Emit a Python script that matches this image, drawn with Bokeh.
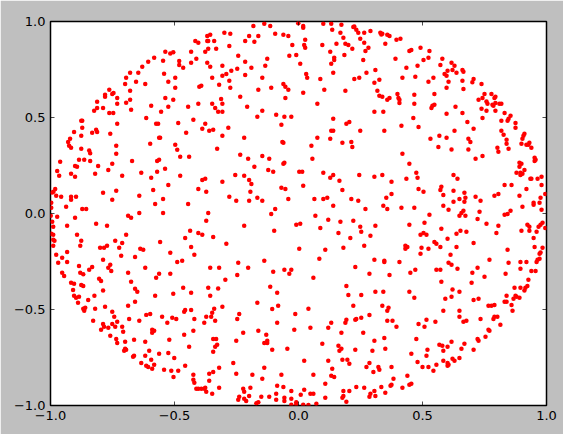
from bokeh.plotting import figure
from bokeh.models import FixedTicker, LinearAxis
from bokeh.embed import file_html
from bokeh.resources import INLINE

tick_values = [-1.0, -0.5, 0.0, 0.5, 1.0]
tick_labels = ["\u22121.0", "\u22120.5", "0.0", "0.5", "1.0"]

upper_left = [(-0.537,0.842),(-0.517,0.833),(-0.505,0.840),(-0.582,0.811),(-0.606,0.790),(-0.546,0.795),(-0.481,0.794),(-0.481,0.774),(-0.630,0.764),(-0.679,0.733),(-0.646,0.733),(-0.695,0.707),(-0.542,0.728),(-0.497,0.707),(-0.699,0.675),(-0.655,0.686),(-0.618,0.675),(-0.525,0.686),(-0.497,0.655),(-0.763,0.644),(-0.679,0.639),(-0.780,0.618),(-0.780,0.608),(-0.751,0.623),(-0.746,0.627),(-0.731,0.602),(-0.812,0.582),(-0.679,0.592),(-0.695,0.577),(-0.731,0.571),(-0.537,0.602),(-0.505,0.592),(-0.824,0.535),(-0.812,0.550),(-0.788,0.550),(-0.675,0.540),(-0.594,0.561),(-0.525,0.556),(-0.554,0.530),(-0.763,0.524),(-0.747,0.524),(-0.614,0.498),(-0.876,0.483),(-0.872,0.483),(-0.731,0.467),(-0.574,0.467),(-0.566,0.467),(-0.485,0.472),(-0.872,0.446),(-0.905,0.425),(-0.832,0.420),(-0.816,0.436),(-0.812,0.425),(-0.876,0.405),(-0.759,0.415),(-0.921,0.389),(-0.929,0.373),(-0.562,0.394),(-0.558,0.394),(-0.925,0.353),(-0.917,0.342),(-0.598,0.363),(-0.735,0.353),(-0.497,0.358),(-0.876,0.337),(-0.489,0.332),(-0.844,0.328)]

upper_middle = [(-0.182,0.977),(-0.138,0.988),(-0.114,0.977),(-0.001,0.991),(0.019,0.977),(0.019,0.967),(0.100,0.988),(0.132,0.988),(0.173,0.983),(0.136,0.957),(0.221,0.972),(0.225,0.974),(0.233,0.957),(0.241,0.941),(0.265,0.941),(0.290,0.951),(-0.299,0.941),(-0.275,0.936),(-0.368,0.925),(-0.356,0.931),(-0.199,0.925),(-0.162,0.925),(-0.094,0.936),(-0.061,0.931),(-0.041,0.925),(0.169,0.941),(0.181,0.915),(0.249,0.910),(-0.416,0.899),(-0.404,0.889),(-0.368,0.899),(-0.364,0.899),(-0.340,0.899),(-0.215,0.899),(-0.178,0.894),(0.027,0.905),(-0.279,0.873),(-0.025,0.878),(0.023,0.878),(0.027,0.863),(0.096,0.878),(0.153,0.884),(0.189,0.884),(0.201,0.878),(0.265,0.889),(0.217,0.858),(0.282,0.863),(0.270,0.847),(-0.433,0.842),(-0.376,0.842),(-0.364,0.858),(-0.332,0.858),(-0.243,0.821),(-0.037,0.821),(-0.009,0.826),(0.128,0.842),(0.185,0.826),(-0.412,0.806),(-0.126,0.806),(0.144,0.811),(0.144,0.800),(0.261,0.800),(-0.433,0.785),(-0.368,0.785),(-0.215,0.790),(0.007,0.780),(0.132,0.780),(-0.465,0.759),(-0.356,0.764),(-0.307,0.769),(-0.134,0.769),(-0.247,0.754),(-0.190,0.759),(-0.271,0.743),(-0.291,0.727),(-0.307,0.717),(-0.215,0.722),(0.031,0.727),(0.140,0.733),(0.274,0.733),(-0.348,0.707),(-0.146,0.707),(0.035,0.707),(0.088,0.701),(0.225,0.701),(0.245,0.707),(-0.279,0.691),(-0.061,0.675),(-0.400,0.660),(-0.392,0.665),(-0.320,0.670),(-0.053,0.660),(-0.041,0.644),(-0.275,0.655),(-0.162,0.644),(-0.110,0.655),(0.104,0.644),(0.189,0.639),(0.019,0.629),(-0.235,0.608),(-0.312,0.597),(-0.053,0.602),(-0.404,0.571),(-0.348,0.571),(-0.307,0.571),(0.076,0.571),(-0.445,0.556),(-0.336,0.550),(-0.207,0.556),(-0.324,0.530),(-0.307,0.530),(-0.146,0.535),(-0.090,0.514),(-0.166,0.504),(-0.057,0.504),(-0.029,0.504),(-0.424,0.488),(0.140,0.493),(0.205,0.477),(0.193,0.467),(-0.376,0.467),(-0.069,0.462),(-0.388,0.441),(-0.360,0.431),(-0.344,0.436),(-0.283,0.446),(0.132,0.431),(0.140,0.431),(0.249,0.431),(-0.453,0.420),(-0.307,0.405),(-0.219,0.394),(0.076,0.394),(0.128,0.389),(-0.065,0.373),(-0.061,0.368),(0.177,0.368),(0.213,0.373),(0.052,0.353),(0.217,0.347),(-0.328,0.337)]

upper_right = [(0.330,0.941),(0.334,0.932),(0.338,0.936),(0.358,0.931),(0.367,0.925),(0.395,0.905),(0.411,0.910),(0.350,0.884),(0.492,0.863),(0.447,0.847),(0.455,0.852),(0.528,0.847),(0.391,0.806),(0.524,0.811),(0.504,0.800),(0.580,0.806),(0.617,0.785),(0.629,0.769),(0.572,0.774),(0.480,0.769),(0.435,0.759),(0.310,0.748),(0.601,0.743),(0.621,0.748),(0.589,0.727),(0.597,0.717),(0.637,0.733),(0.661,0.748),(0.665,0.738),(0.471,0.712),(0.419,0.707),(0.544,0.707),(0.706,0.701),(0.326,0.696),(0.306,0.681),(0.524,0.686),(0.605,0.686),(0.661,0.691),(0.701,0.684),(0.738,0.675),(0.597,0.655),(0.665,0.649),(0.318,0.639),(0.548,0.623),(0.399,0.623),(0.467,0.618),(0.750,0.623),(0.778,0.623),(0.326,0.613),(0.338,0.608),(0.367,0.602),(0.358,0.592),(0.403,0.602),(0.407,0.592),(0.407,0.576),(0.794,0.608),(0.790,0.602),(0.726,0.592),(0.742,0.602),(0.758,0.583),(0.762,0.571),(0.794,0.576),(0.810,0.571),(0.818,0.571),(0.467,0.571),(0.548,0.566),(0.540,0.561),(0.536,0.550),(0.633,0.556),(0.782,0.566),(0.786,0.561),(0.738,0.545),(0.758,0.535),(0.794,0.535),(0.306,0.530),(0.342,0.530),(0.661,0.524),(0.597,0.519),(0.831,0.524),(0.855,0.509),(0.847,0.493),(0.843,0.483),(0.463,0.498),(0.742,0.498),(0.818,0.483),(0.681,0.477),(0.875,0.472),(0.415,0.457),(0.484,0.451),(0.875,0.446),(0.706,0.441),(0.346,0.431),(0.629,0.431),(0.818,0.431),(0.827,0.410),(0.568,0.405),(0.597,0.394),(0.532,0.389),(0.685,0.389),(0.693,0.373),(0.911,0.415),(0.907,0.405),(0.903,0.389),(0.839,0.384),(0.839,0.363),(0.899,0.363),(0.919,0.358),(0.931,0.368),(0.927,0.358),(0.564,0.347),(0.802,0.342),(0.939,0.342),(0.847,0.337),(0.617,0.333),(0.685,0.333)]

centre_left = [(-0.840,0.314),(-0.735,0.311),(-0.477,0.295),(-0.961,0.269),(-0.885,0.280),(-0.864,0.280),(-0.840,0.274),(-0.671,0.274),(-0.570,0.274),(-0.562,0.280),(-0.808,0.248),(-0.751,0.259),(-0.901,0.248),(-0.893,0.243),(-0.538,0.233),(-0.767,0.227),(-0.973,0.222),(-0.917,0.207),(-0.820,0.207),(-0.570,0.217),(-0.634,0.212),(-0.965,0.196),(-0.901,0.191),(-0.711,0.196),(-0.477,0.196),(-0.594,0.186),(-0.525,0.149),(-0.981,0.128),(-0.586,0.123),(-0.993,0.109),(-0.988,0.113),(-0.788,0.108),(-0.735,0.118),(-0.977,0.092),(-0.957,0.087),(-0.917,0.087),(-0.917,0.071),(-0.897,0.087),(-0.642,0.092),(-0.751,0.071),(-0.546,0.076),(-0.997,0.056),(-0.578,0.050),(-0.937,0.035),(-0.997,0.030),(-0.872,0.024),(-0.856,0.024),(-0.642,0.003),(-0.546,0.003),(-0.999,-0.012),(-0.973,-0.017),(-0.687,-0.012),(-0.675,-0.022),(-0.901,-0.022),(-0.993,-0.043),(-0.816,-0.054),(-0.989,-0.069),(-0.933,-0.064),(-0.772,-0.064),(-0.997,-0.106),(-0.989,-0.111),(-0.893,-0.111),(-0.695,-0.111),(-0.989,-0.137),(-0.984,-0.142),(-0.876,-0.142),(-0.739,-0.142),(-0.711,-0.153),(-0.558,-0.148),(-0.989,-0.168),(-0.880,-0.168),(-0.800,-0.179),(-0.784,-0.179),(-0.772,-0.168),(-0.723,-0.179),(-0.638,-0.184),(-0.626,-0.189),(-0.977,-0.215),(-0.933,-0.200),(-0.517,-0.205),(-0.715,-0.220),(-0.659,-0.226),(-0.953,-0.231),(-0.788,-0.241),(-0.489,-0.252),(-0.969,-0.257),(-0.933,-0.252),(-0.885,-0.273),(-0.759,-0.267),(-0.832,-0.278),(-0.844,-0.293),(-0.767,-0.283),(-0.618,-0.283),(-0.755,-0.299),(-0.953,-0.309),(-0.945,-0.325),(-0.880,-0.309),(-0.868,-0.316),(-0.687,-0.309),(-0.562,-0.314),(-0.517,-0.314),(-0.574,-0.335),(-0.804,-0.340),(-0.796,-0.351),(-0.675,-0.356),(-0.917,-0.361),(-0.905,-0.366),(-0.876,-0.372),(-0.868,-0.377),(-0.659,-0.392),(-0.909,-0.398),(-0.788,-0.401)]

centre_middle = [(-0.441,0.295),(-0.235,0.306),(-0.203,0.285),(-0.146,0.300),(-0.118,0.285),(0.056,0.285),(-0.178,0.243),(-0.061,0.259),(-0.057,0.264),(-0.122,0.227),(-0.102,0.217),(0.003,0.217),(0.015,0.217),(0.100,0.212),(0.140,0.201),(0.128,0.186),(0.245,0.201),(-0.255,0.201),(-0.219,0.196),(-0.388,0.175),(-0.376,0.181),(-0.199,0.175),(-0.307,0.165),(0.165,0.170),(-0.190,0.154),(0.019,0.144),(-0.404,0.128),(-0.069,0.134),(-0.053,0.128),(0.177,0.123),(-0.372,0.113),(-0.194,0.113),(-0.279,0.087),(-0.166,0.082),(-0.251,0.066),(-0.199,0.066),(-0.146,0.066),(-0.041,0.076),(0.064,0.076),(0.100,0.076),(0.116,0.082),(0.213,0.076),(0.241,0.066),(-0.445,0.050),(0.140,0.040),(0.270,0.024),(-0.094,0.024),(-0.364,0.003),(-0.110,-0.002),(0.068,-0.012),(-0.372,-0.038),(0.120,-0.033),(0.169,-0.043),(0.221,-0.038),(-0.009,-0.059),(0.007,-0.054),(-0.219,-0.064),(0.088,-0.075),(0.249,-0.069),(-0.437,-0.090),(-0.098,-0.090),(0.253,-0.095),(-0.404,-0.101),(-0.388,-0.111),(0.161,-0.101),(-0.344,-0.122),(-0.457,-0.127),(0.209,-0.127),(0.290,-0.116),(-0.291,-0.158),(0.265,-0.168),(-0.433,-0.174),(0.003,-0.184),(0.108,-0.189),(0.181,-0.179),(-0.420,-0.215),(-0.138,-0.246),(0.084,-0.236),(-0.469,-0.246),(-0.243,-0.257),(-0.356,-0.283),(-0.320,-0.283),(-0.203,-0.283),(0.229,-0.278),(-0.102,-0.304),(-0.057,-0.293),(-0.029,-0.293),(-0.037,-0.314),(-0.247,-0.320),(0.286,-0.314),(-0.295,-0.345),(0.060,-0.335),(0.193,-0.377),(-0.465,-0.387),(-0.364,-0.387),(-0.324,-0.390),(-0.114,-0.382)]

centre_right = [(0.419,0.311),(0.806,0.321),(0.714,0.285),(0.742,0.300),(0.952,0.290),(0.956,0.280),(0.952,0.274),(0.447,0.259),(0.891,0.264),(0.899,0.259),(0.891,0.243),(0.475,0.212),(0.911,0.227),(0.879,0.212),(0.895,0.212),(0.903,0.207),(0.895,0.201),(0.306,0.191),(0.338,0.201),(0.625,0.201),(0.435,0.181),(0.480,0.186),(0.641,0.181),(0.935,0.181),(0.939,0.181),(0.964,0.181),(0.980,0.191),(0.375,0.165),(0.831,0.149),(0.859,0.149),(0.980,0.149),(0.576,0.139),(0.572,0.123),(0.484,0.128),(0.504,0.113),(0.625,0.118),(0.919,0.128),(0.669,0.108),(0.806,0.102),(0.790,0.092),(0.891,0.092),(0.375,0.102),(0.584,0.097),(0.976,0.082),(0.995,0.102),(0.673,0.082),(0.714,0.087),(0.354,0.082),(0.649,0.076),(0.669,0.061),(0.625,0.061),(0.734,0.066),(0.948,0.056),(0.948,0.045),(0.972,0.056),(0.342,0.040),(0.584,0.040),(0.903,0.035),(0.358,0.024),(0.415,0.030),(0.467,0.030),(0.605,0.019),(0.980,0.019),(0.665,0.014),(0.730,0.009),(0.855,0.014),(0.657,0.003),(0.649,-0.012),(0.673,-0.012),(0.528,-0.007),(0.831,-0.007),(0.843,-0.002),(0.722,-0.028),(0.508,-0.048),(0.758,-0.054),(0.447,-0.059),(0.310,-0.064),(0.806,-0.064),(0.923,-0.059),(0.931,-0.069),(0.968,-0.069),(0.984,-0.048),(0.976,-0.059),(0.576,-0.080),(0.653,-0.090),(0.677,-0.095),(0.899,-0.090),(0.931,-0.090),(0.960,-0.095),(0.995,-0.075),(0.504,-0.101),(0.492,-0.111),(0.516,-0.111),(0.637,-0.106),(0.798,-0.101),(0.601,-0.132),(0.948,-0.127),(0.548,-0.148),(0.556,-0.158),(0.706,-0.153),(0.572,-0.174),(0.637,-0.174),(0.431,-0.168),(0.439,-0.174),(0.431,-0.184),(0.496,-0.179),(0.524,-0.184),(0.952,-0.174),(0.984,-0.179),(0.843,-0.189),(0.492,-0.210),(0.613,-0.215),(0.972,-0.210),(0.976,-0.203),(0.972,-0.236),(0.964,-0.241),(0.960,-0.252),(0.306,-0.241),(0.346,-0.246),(0.346,-0.252),(0.407,-0.252),(0.770,-0.241),(0.847,-0.257),(0.895,-0.252),(0.919,-0.252),(0.605,-0.257),(0.617,-0.267),(0.471,-0.293),(0.556,-0.293),(0.572,-0.293),(0.641,-0.288),(0.722,-0.283),(0.895,-0.288),(0.939,-0.299),(0.956,-0.299),(0.451,-0.309),(0.701,-0.309),(0.835,-0.314),(0.367,-0.320),(0.750,-0.330),(0.927,-0.345),(0.576,-0.356),(0.698,-0.361),(0.871,-0.387),(0.895,-0.387),(0.923,-0.377),(0.915,-0.387),(0.621,-0.396)]

lower_left = [(-0.650,-0.408),(-0.905,-0.429),(-0.823,-0.429),(-0.578,-0.429),(-0.505,-0.418),(-0.897,-0.439),(-0.885,-0.434),(-0.848,-0.450),(-0.889,-0.465),(-0.659,-0.460),(-0.687,-0.481),(-0.780,-0.486),(-0.860,-0.491),(-0.868,-0.496),(-0.864,-0.507),(-0.820,-0.496),(-0.751,-0.512),(-0.457,-0.502),(-0.461,-0.512),(-0.743,-0.538),(-0.614,-0.528),(-0.598,-0.523),(-0.550,-0.538),(-0.509,-0.543),(-0.493,-0.549),(-0.683,-0.549),(-0.828,-0.559),(-0.731,-0.564),(-0.642,-0.559),(-0.751,-0.575),(-0.529,-0.569),(-0.788,-0.575),(-0.784,-0.590),(-0.767,-0.595),(-0.739,-0.590),(-0.711,-0.590),(-0.796,-0.606),(-0.707,-0.616),(-0.590,-0.606),(-0.582,-0.611),(-0.590,-0.621),(-0.461,-0.632),(-0.759,-0.637),(-0.735,-0.653),(-0.663,-0.658),(-0.521,-0.658),(-0.731,-0.674),(-0.699,-0.668),(-0.618,-0.668),(-0.441,-0.694),(-0.699,-0.705),(-0.695,-0.710),(-0.703,-0.715),(-0.602,-0.715),(-0.562,-0.731),(-0.525,-0.726),(-0.663,-0.741),(-0.667,-0.746),(-0.618,-0.741),(-0.501,-0.752),(-0.594,-0.762),(-0.634,-0.778),(-0.582,-0.788),(-0.614,-0.793),(-0.606,-0.799),(-0.457,-0.793),(-0.590,-0.809),(-0.542,-0.814),(-0.513,-0.819),(-0.485,-0.819),(-0.504,-0.851)]

lower_middle = [(-0.433,-0.413),(-0.356,-0.429),(-0.086,-0.413),(0.201,-0.424),(0.253,-0.424),(-0.166,-0.465),(-0.307,-0.486),(-0.082,-0.481),(0.221,-0.481),(-0.340,-0.496),(-0.433,-0.502),(-0.106,-0.498),(0.040,-0.496),(-0.348,-0.517),(-0.372,-0.538),(-0.352,-0.538),(-0.239,-0.523),(-0.013,-0.523),(-0.420,-0.549),(-0.247,-0.549),(-0.336,-0.559),(-0.380,-0.569),(-0.086,-0.569),(0.189,-0.569),(0.193,-0.554),(0.132,-0.569),(0.229,-0.554),(0.233,-0.549),(0.253,-0.543),(0.286,-0.528),(0.120,-0.595),(0.048,-0.595),(-0.424,-0.611),(-0.162,-0.611),(-0.017,-0.606),(-0.223,-0.621),(-0.130,-0.632),(0.173,-0.621),(0.261,-0.621),(-0.344,-0.653),(-0.332,-0.653),(-0.126,-0.663),(-0.126,-0.674),(-0.138,-0.674),(-0.251,-0.663),(-0.328,-0.684),(-0.336,-0.694),(0.096,-0.679),(0.161,-0.689),(-0.106,-0.710),(-0.045,-0.705),(0.173,-0.705),(0.165,-0.715),(0.229,-0.710),(-0.344,-0.720),(-0.263,-0.778),(0.023,-0.767),(0.120,-0.767),(0.177,-0.762),(0.197,-0.762),(0.205,-0.783),(0.286,-0.778),(-0.138,-0.804),(-0.320,-0.804),(-0.344,-0.825),(-0.360,-0.835),(-0.251,-0.835),(0.136,-0.809),(0.274,-0.799),(-0.424,-0.840),(-0.186,-0.840),(-0.069,-0.840),(0.060,-0.840),(0.132,-0.845),(0.144,-0.851),(-0.146,-0.861),(-0.360,-0.871),(-0.424,-0.866),(-0.420,-0.882),(0.108,-0.887),(-0.086,-0.897),(-0.412,-0.913),(-0.404,-0.913),(-0.392,-0.913),(-0.380,-0.913),(-0.376,-0.908),(-0.320,-0.908),(-0.372,-0.929),(-0.194,-0.908),(-0.223,-0.913),(-0.219,-0.929),(-0.061,-0.903),(-0.029,-0.924),(0.023,-0.918),(-0.348,-0.939),(-0.090,-0.939),(0.009,-0.944),(0.048,-0.939),(0.060,-0.939),(0.181,-0.924),(0.205,-0.924),(0.233,-0.903),(0.265,-0.908),(0.290,-0.939),(0.286,-0.955),(-0.199,-0.950),(-0.239,-0.955),(-0.243,-0.970),(-0.150,-0.955),(-0.118,-0.955),(-0.219,-0.965),(-0.211,-0.976),(-0.057,-0.960),(-0.057,-0.976),(-0.090,-0.970),(-0.029,-0.965),(0.108,-0.960),(0.181,-0.950),(0.177,-0.960),(0.193,-0.981),(-0.162,-0.983),(-0.170,-0.988),(-0.029,-0.996),(-0.009,-0.983),(-0.009,-0.993),(0.019,-0.996),(0.040,-0.998),(0.072,-0.991)]

lower_right = [(0.310,-0.408),(0.342,-0.408),(0.447,-0.408),(0.467,-0.439),(0.649,-0.408),(0.911,-0.401),(0.839,-0.429),(0.617,-0.434),(0.592,-0.444),(0.706,-0.450),(0.726,-0.444),(0.875,-0.429),(0.867,-0.444),(0.879,-0.434),(0.891,-0.439),(0.831,-0.460),(0.839,-0.460),(0.859,-0.476),(0.338,-0.481),(0.363,-0.491),(0.358,-0.507),(0.584,-0.507),(0.649,-0.507),(0.766,-0.481),(0.778,-0.481),(0.790,-0.476),(0.863,-0.507),(0.649,-0.538),(0.790,-0.538),(0.802,-0.538),(0.786,-0.549),(0.734,-0.549),(0.677,-0.559),(0.665,-0.564),(0.358,-0.559),(0.379,-0.559),(0.516,-0.554),(0.552,-0.564),(0.484,-0.575),(0.508,-0.590),(0.395,-0.590),(0.814,-0.580),(0.766,-0.606),(0.770,-0.611),(0.475,-0.653),(0.346,-0.648),(0.722,-0.653),(0.726,-0.663),(0.754,-0.642),(0.306,-0.663),(0.617,-0.668),(0.568,-0.684),(0.580,-0.689),(0.601,-0.694),(0.669,-0.679),(0.350,-0.705),(0.298,-0.715),(0.657,-0.705),(0.584,-0.715),(0.520,-0.710),(0.706,-0.710),(0.455,-0.731),(0.516,-0.741),(0.649,-0.752),(0.480,-0.773),(0.584,-0.767),(0.621,-0.757),(0.629,-0.767),(0.601,-0.778),(0.605,-0.788),(0.601,-0.793),(0.556,-0.788),(0.500,-0.799),(0.524,-0.799),(0.544,-0.819),(0.375,-0.799),(0.322,-0.799),(0.326,-0.814),(0.302,-0.825),(0.439,-0.845),(0.383,-0.861),(0.455,-0.887),(0.447,-0.892),(0.334,-0.903),(0.375,-0.892),(0.371,-0.897),(0.419,-0.908),(0.306,-0.924),(0.350,-0.934),(0.310,-0.950)]

regions = [upper_left, upper_middle, upper_right, centre_left, centre_middle,
           centre_right, lower_left, lower_middle, lower_right]
x_values = [pt[0] for region in regions for pt in region]
y_values = [pt[1] for region in regions for pt in region]

p = figure(width=563, height=434, frame_width=496, frame_height=384,
           x_range=(-1, 1), y_range=(-1, 1), output_backend="svg",
           toolbar_location=None, min_border_left=50, min_border_right=17,
           min_border_top=21, min_border_bottom=29,
           x_axis_location=None, y_axis_location=None,
           background_fill_color="white", border_fill_color="#BFBFBF")
p.grid.visible = False
p.outline_line_color = "black"
p.outline_line_width = 1.5

overrides = dict(zip(tick_values, tick_labels))
blank = {t: "" for t in tick_values}
for side, show in (("below", True), ("left", True), ("above", False), ("right", False)):
    ax = LinearAxis(ticker=FixedTicker(ticks=tick_values))
    ax.axis_line_color = None
    ax.major_tick_in = 4
    ax.major_tick_out = 0
    ax.major_tick_line_color = "black"
    ax.major_tick_line_width = 0.7
    ax.minor_tick_line_color = None
    ax.major_label_text_font = "DejaVu Sans"
    ax.major_label_text_color = "black"
    if show:
        ax.major_label_overrides = overrides
        ax.major_label_text_font_size = "13px"
        ax.major_label_standoff = 5
    else:
        ax.major_label_overrides = blank
        ax.major_label_text_font_size = "1px"
        ax.major_label_standoff = 0
    p.add_layout(ax, side)

p.scatter(x_values, y_values, size=4.5, fill_color="#FF0000", line_color=None)

open("out.html", "w").write(file_html(p, INLINE))
